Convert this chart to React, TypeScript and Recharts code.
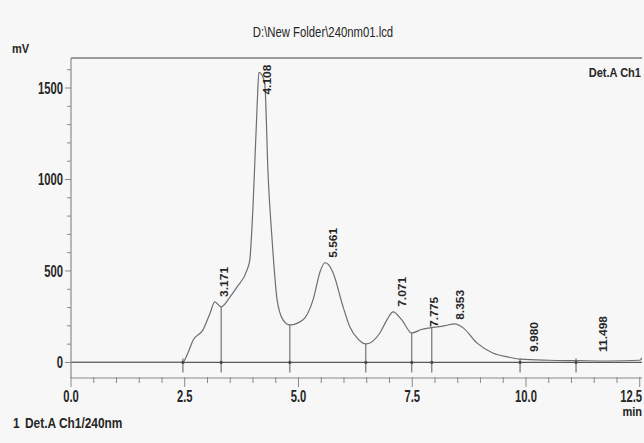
import { ComposedChart, Line, XAxis, YAxis, ReferenceLine, ReferenceDot } from "recharts";

// chromatogram trace, Det.A Ch1 240nm (min, mV)
const TIME = [
  0, 1.0, 2.0, 2.4, 2.46, 2.57, 2.68, 2.9, 3.05, 3.16, 3.3, 3.5, 3.65, 3.87, 3.93, 4.0, 4.09, 4.13,
  4.2, 4.26, 4.33, 4.42, 4.53, 4.66, 4.81, 5.1, 5.32, 5.48, 5.58, 5.66, 5.76, 5.98, 6.13, 6.3, 6.48,
  6.79, 6.95, 7.08, 7.27, 7.49, 7.7, 7.89, 8.2, 8.44, 8.62, 8.92, 9.27, 9.6, 9.87, 10.5, 11.12, 11.8,
  12.5, 12.55,
];
const SIGNAL = [
  0, 0, 0, 0, 2, 52, 120, 178, 265, 331, 304, 360, 413, 506, 561, 851, 1398, 1585,
  1570, 1520, 1037, 670, 342, 233, 205, 233, 342, 500, 545, 535, 490, 304, 194, 130, 101,
  161, 235, 276, 233, 161, 180, 189, 200, 211, 189, 107, 52, 30, 18, 12, 10, 8,
  12, 25,
];

// integration results
const PEAK_RT = [3.171, 4.108, 5.561, 7.071, 7.775, 8.353, 9.98, 11.498];
const PEAK_LABEL_AT = [358, 1464, 572, 304, 194, 233, 57, 57];
const CUT_T = [2.46, 3.3, 4.81, 6.48, 7.49, 7.93, 9.87, 11.1];
const CUT_TOP = [22, 304, 205, 101, 161, 189, 22, 22];

const X_TICKS = [0, 0.5, 1, 1.5, 2, 2.5, 3, 3.5, 4, 4.5, 5, 5.5, 6, 6.5, 7, 7.5, 8, 8.5, 9, 9.5, 10, 10.5, 11, 11.5, 12, 12.5];
const X_LABELS = [0, 2.5, 5, 7.5, 10, 12.5];
const Y_TICKS = [0, 100, 200, 300, 400, 500, 600, 700, 800, 900, 1000, 1100, 1200, 1300, 1400, 1500, 1600];
const Y_LABELS = [0, 500, 1000, 1500];

const X_MAX = 12.55;
const Y_MIN = -85;
const Y_MAX = 1664;

const data = TIME.map((t, i) => ({ t, v: SIGNAL[i] }));

const FONT = '"Liberation Sans", Arial, sans-serif';
const INK = "#262626";
const AXIS = "#8a8a8a";

const XTick = ({ x, y, payload }: any) => {
  const v = payload.value;
  const major = X_LABELS.includes(v);
  // last label sits against the right edge, like the printout
  const last = v === X_LABELS[X_LABELS.length - 1];
  return (
    <g>
      <line x1={x} x2={x} y1={y - 1} y2={y + (major ? 9 : 5)} stroke={AXIS} />
      {major && (
        <text
          transform={`translate(${last ? 642 : x},${y + 24}) scale(0.66,1)`}
          textAnchor={last ? "end" : "middle"}
          fontSize={17}
          fontFamily={FONT}
          fontWeight={600}
          fill={INK}
        >
          {v.toFixed(1)}
        </text>
      )}
    </g>
  );
};

const YTick = ({ x, y, payload }: any) => {
  const v = payload.value;
  const major = Y_LABELS.includes(v);
  return (
    <g>
      <line x1={x} x2={x - (major ? 6 : 4)} y1={y} y2={y} stroke={AXIS} />
      {major && (
        <text
          transform={`translate(${x - 8},${y + 6}) scale(0.66,1)`}
          textAnchor="end"
          fontSize={17}
          fontFamily={FONT}
          fontWeight={600}
          fill={INK}
        >
          {v}
        </text>
      )}
    </g>
  );
};

const PeakLabel = (text: string) => (p: any) => (
  <text
    transform={`translate(${p.cx + 13},${p.cy}) rotate(-90) scale(1,0.85)`}
    textAnchor="start"
    fontSize={12}
    fontFamily={FONT}
    fontWeight={600}
    fill={INK}
  >
    {text}
  </text>
);

const Txt = ({ x, y, s, size, anchor = "start", bold = true, children }: any) => (
  <text
    transform={`translate(${x},${y}) scale(${s},1)`}
    textAnchor={anchor}
    fontSize={size}
    fontFamily={FONT}
    fontWeight={bold ? 600 : 400}
    fill={INK}
  >
    {children}
  </text>
);

export default function App() {
  return (
    <div style={{ position: "relative", width: 644, height: 443, background: "#f7f7f7" }}>
      <style>{"body{margin:0}"}</style>
      <ComposedChart
        width={644}
        height={443}
        data={data}
        margin={{ top: 58, right: 2, left: 11, bottom: 35 }}
      >
        <XAxis
          dataKey="t"
          type="number"
          domain={[0, X_MAX]}
          ticks={X_TICKS}
          interval={0}
          allowDataOverflow
          height={30}
          tickSize={0}
          tickMargin={0}
          tickLine={false}
          axisLine={{ stroke: AXIS, strokeWidth: 1.2 }}
          tick={XTick}
        />
        <YAxis
          type="number"
          domain={[Y_MIN, Y_MAX]}
          ticks={Y_TICKS}
          interval={0}
          allowDataOverflow
          width={60}
          tickSize={0}
          tickMargin={0}
          tickLine={false}
          axisLine={{ stroke: AXIS, strokeWidth: 1.2 }}
          tick={YTick}
        />
        <ReferenceLine y={Y_MAX} stroke="#7a7a7a" strokeWidth={1.5} />
        <ReferenceLine y={0} stroke="#5a5a5a" strokeWidth={1.3} />
        {CUT_T.map((t, i) => (
          <ReferenceLine
            key={`cut${i}`}
            segment={[{ x: t, y: -55 }, { x: t, y: CUT_TOP[i] }]}
            stroke="#5a5a5a"
            strokeWidth={1}
          />
        ))}
        {CUT_T.map((t, i) => (
          <ReferenceDot key={`dot${i}`} x={t} y={0} r={1.6} fill="#4a4a4a" stroke="none" />
        ))}
        <Line
          type="monotone"
          dataKey="v"
          stroke="#6e6e6e"
          strokeWidth={1.2}
          dot={false}
          isAnimationActive={false}
        />
        {PEAK_RT.map((rt, i) => (
          <ReferenceDot
            key={`pk${i}`}
            x={rt}
            y={PEAK_LABEL_AT[i]}
            r={0}
            shape={PeakLabel(rt.toFixed(3))}
          />
        ))}
      </ComposedChart>
      <svg
        width={644}
        height={443}
        style={{ position: "absolute", left: 0, top: 0, pointerEvents: "none" }}
      >
        <Txt x={323} y={37} s={0.81} size={14} anchor="middle" bold={false}>
          D:\New Folder\240nm01.lcd
        </Txt>
        <Txt x={12} y={53} s={0.85} size={13}>mV</Txt>
        <Txt x={641} y={77} s={0.85} size={13} anchor="end">Det.A Ch1</Txt>
        <Txt x={642} y={416} s={0.85} size={13} anchor="end">min</Txt>
        <Txt x={13} y={428} s={0.85} size={14}>1</Txt>
        <Txt x={25} y={428} s={0.85} size={14}>Det.A Ch1/240nm</Txt>
      </svg>
    </div>
  );
}
